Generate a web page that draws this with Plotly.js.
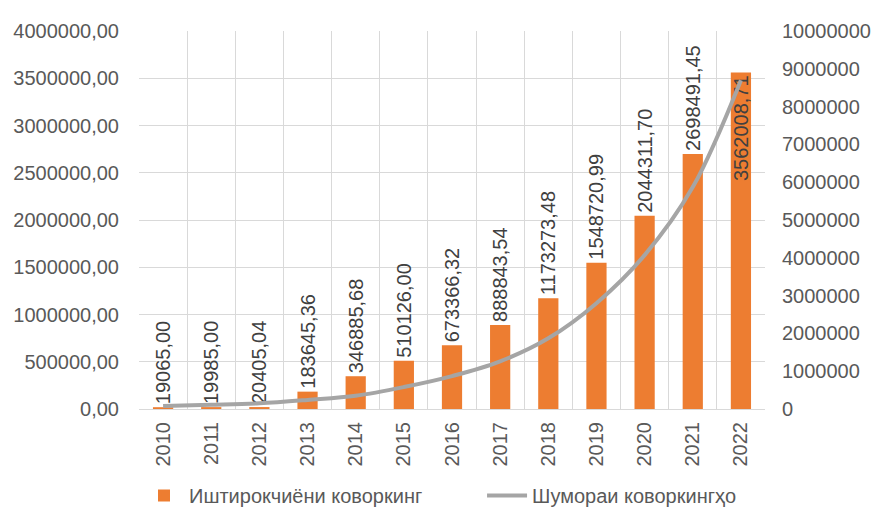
<!DOCTYPE html>
<html>
<head>
<meta charset="utf-8">
<script src="https://cdn.plot.ly/plotly-3.0.1.min.js"></script>
<style>html,body{margin:0;padding:0;background:#fff;}#chart{width:881px;height:515px;}</style>
</head>
<body>
<div id="chart"></div>
<script>
var years = ['2010','2011','2012','2013','2014','2015','2016','2017','2018','2019','2020','2021','2022'];
var participants = [19065.00, 19985.00, 20405.04, 183645.36, 346885.68, 510126.00, 673366.32, 888843.54, 1173273.48, 1548720.99, 2044311.70, 2698491.45, 3562008.71];
var coworkings = [80000, 110000, 150000, 240000, 350000, 580000, 870000, 1260000, 1870000, 2800000, 4070000, 5870000, 8700000];
var barName = 'Иштирокчиёни коворкинг';
var lineName = 'Шумораи коворкингҳо';

var labels = participants.map(function(v){ return v.toFixed(2).replace('.', ','); });
var positions = participants.map(function(v, i){ return i === participants.length - 1 ? 'inside' : 'outside'; });

var FONT = 'Liberation Sans, Arial, sans-serif';
var TXT = '#595959';

var traces = [
  {
    type: 'bar', x: years, y: participants, name: barName, legend: 'legend',
    marker: {color: '#ED7D31'},
    text: labels, textposition: positions, textangle: -90,
    insidetextanchor: 'end', constraintext: 'none', cliponaxis: false,
    textfont: {family: FONT, size: 20, color: '#404040'},
    insidetextfont: {family: FONT, size: 20, color: '#404040'},
    outsidetextfont: {family: FONT, size: 20, color: '#404040'},
    hoverinfo: 'none'
  },
  {
    type: 'scatter', mode: 'lines', x: years, y: coworkings, name: lineName, yaxis: 'y2', legend: 'legend2',
    line: {color: '#A5A5A5', width: 4, shape: 'spline', smoothing: 1},
    hoverinfo: 'none'
  }
];

var legendFont = {family: FONT, size: 20, color: TXT};

var layout = {
  width: 881, height: 515,
  margin: {l: 139, r: 116, t: 31, b: 106},
  paper_bgcolor: '#ffffff', plot_bgcolor: '#ffffff',
  font: {family: FONT, size: 20, color: TXT},
  separators: ', ',
  bargap: 0.58,
  showlegend: true,
  legend: {orientation: 'h', x: 0, xanchor: 'left', yref: 'container', y: -0.032, yanchor: 'bottom',
           font: legendFont, itemwidth: 40},
  legend2: {orientation: 'h', x: 0.548, xanchor: 'left', yref: 'container', y: -0.032, yanchor: 'bottom',
           font: legendFont, itemwidth: 40},
  xaxis: {type: 'category', tickangle: -90, tickson: 'boundaries', ticks: '', showgrid: true,
          gridcolor: '#D9D9D9', gridwidth: 1, showline: true, linecolor: '#D9D9D9', linewidth: 1,
          tickfont: {family: FONT, size: 20, color: TXT}, ticklabelstandoff: 4},
  yaxis: {range: [0, 4000000], dtick: 500000, tickformat: '.2f', showgrid: true, gridcolor: '#D9D9D9',
          zeroline: false, ticks: '', tickfont: {family: FONT, size: 20, color: TXT}, ticklabelstandoff: 19},
  yaxis2: {range: [0, 10000000], dtick: 1000000, tickformat: 'd', overlaying: 'y', side: 'right',
           showgrid: false, zeroline: false, ticks: '', tickfont: {family: FONT, size: 20, color: TXT}, ticklabelstandoff: 16}
};

Plotly.newPlot('chart', traces, layout, {displayModeBar: false, staticPlot: true});
</script>
</body>
</html>
